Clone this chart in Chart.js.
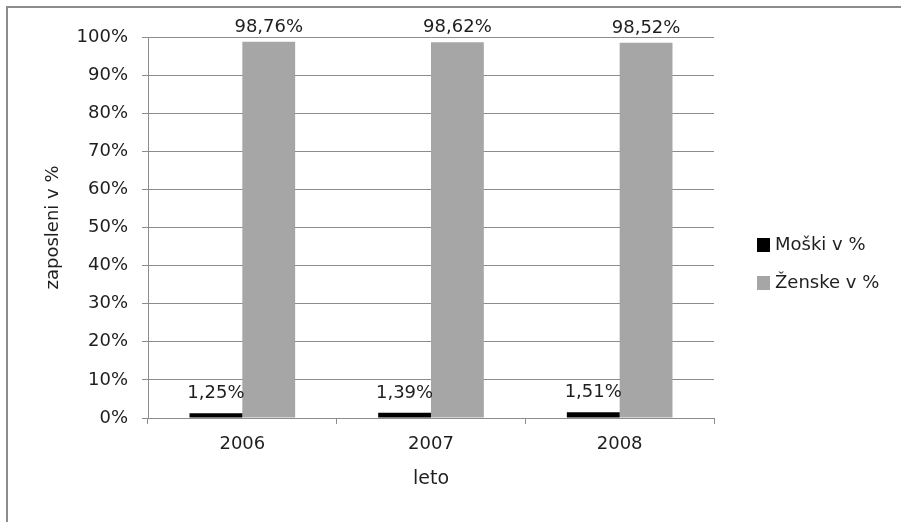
<!DOCTYPE html>
<html lang="sl">
<head>
    <meta charset="UTF-8">
    <title>Zaposleni po spolu</title>
    <script src="https://cdn.jsdelivr.net/npm/chart.js"></script>
    <style>
        html, body { margin: 0; padding: 0; background: #fff; overflow: hidden; }
        .wrap { position: relative; width: 901px; height: 522px; }
        .frame {
            position: absolute; left: 6px; top: 6px; width: 1000px; height: 1000px;
            border-left: 2px solid #8c8c8c; border-top: 2px solid #8c8c8c;
        }
        canvas { position: absolute; left: 0; top: 0; }
    </style>
</head>
<body>
    <div class="wrap">
        <div class="frame"></div>
        <canvas id="barChart" width="901" height="522"></canvas>
    </div>

    <script>
        // values
        const years = ['2006', '2007', '2008'];
        const moski = [1.25, 1.39, 1.51];
        const zenske = [98.76, 98.62, 98.52];
        const seriesNames = ['Moški v %', 'Ženske v %'];

        const FONT = 'DejaVu Sans';
        const TEXT = '#1e1e1e';
        const GRID = '#8c8c8c';

        const fmt = v => v.toFixed(2).replace('.', ',') + '%';

        // value labels above each bar
        const barLabels = {
            id: 'barLabels',
            afterDatasetsDraw(chart) {
                const ctx = chart.ctx;
                ctx.save();
                ctx.font = '18px "' + FONT + '"';
                ctx.fillStyle = TEXT;
                ctx.textAlign = 'center';
                ctx.textBaseline = 'alphabetic';
                chart.data.datasets.forEach((ds, i) => {
                    chart.getDatasetMeta(i).data.forEach((bar, j) => {
                        ctx.fillText(fmt(ds.data[j]), bar.x, bar.y - ds.labelGap);
                    });
                });
                ctx.restore();
            }
        };

        // legend on the right, drawn by hand to sit where Excel put it
        const sideLegend = {
            id: 'sideLegend',
            afterDraw(chart) {
                const ctx = chart.ctx;
                ctx.save();
                ctx.font = '18px "' + FONT + '"';
                ctx.textBaseline = 'middle';
                ctx.textAlign = 'left';
                chart.data.datasets.forEach((ds, i) => {
                    const y = 245 + i * 38;
                    ctx.fillStyle = ds.backgroundColor;
                    ctx.fillRect(757, y - 7, 13, 14);
                    ctx.fillStyle = TEXT;
                    ctx.fillText(ds.label, 775, y);
                });
                ctx.restore();
            }
        };

        const ctxBar = document.getElementById('barChart').getContext('2d');
        const barChart = new Chart(ctxBar, {
            type: 'bar',
            data: {
                labels: years,
                datasets: [
                    { label: seriesNames[0], data: moski, backgroundColor: '#000000', labelGap: 15 },
                    { label: seriesNames[1], data: zenske, backgroundColor: '#a6a6a6', labelGap: 10 }
                ]
            },
            options: {
                responsive: false,
                animation: false,
                devicePixelRatio: 1,
                categoryPercentage: 0.56,
                barPercentage: 1,
                layout: { padding: { left: 0, top: 37, right: 187, bottom: 0 } },
                plugins: {
                    legend: { display: false },
                    tooltip: { enabled: false }
                },
                scales: {
                    x: {
                        afterFit: s => { s.height = 104; },
                        grid: { drawOnChartArea: false, drawTicks: true, tickLength: 6, color: GRID },
                        border: { color: GRID, width: 1 },
                        ticks: { color: TEXT, padding: 10, font: { family: FONT, size: 18 } },
                        title: {
                            display: true, text: 'leto', color: TEXT,
                            font: { family: FONT, size: 19 },
                            padding: { top: 0, bottom: 32 }
                        }
                    },
                    y: {
                        min: 0,
                        max: 100,
                        afterFit: s => { s.width = 148; },
                        grid: { color: GRID, tickLength: 6 },
                        border: { color: GRID, width: 1 },
                        ticks: {
                            stepSize: 10, color: TEXT, padding: 14,
                            font: { family: FONT, size: 18 },
                            callback: v => v + '%'
                        },
                        title: {
                            display: true, text: 'zaposleni v %', color: TEXT,
                            font: { family: FONT, size: 18 },
                            padding: { top: 43, bottom: 0 }
                        }
                    }
                }
            },
            plugins: [barLabels, sideLegend]
        });
    </script>
</body>
</html>
